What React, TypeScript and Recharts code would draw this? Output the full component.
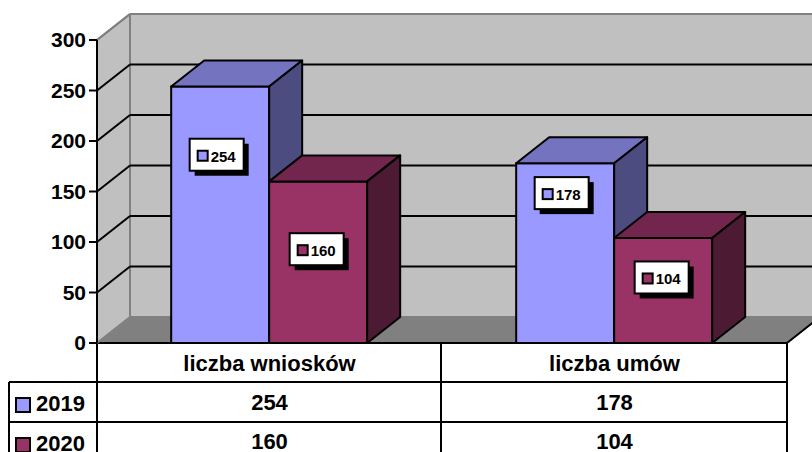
import { Bar, BarChart, CartesianGrid, LabelList, XAxis, YAxis } from "recharts";

const CATEGORIES = ["liczba wniosków", "liczba umów"];
const SERIES_NAMES = ["2019", "2020"];
const VALUES_2019 = [254, 178];
const VALUES_2020 = [160, 104];
const Y_TICKS = [0, 50, 100, 150, 200, 250, 300];

const data = CATEGORIES.map((name, i) => ({
  name,
  y2019: VALUES_2019[i],
  y2020: VALUES_2020[i],
}));

// layout of the fake 3D box (Excel style)
const W = 812;
const H = 452;
const PLOT = { left: 97, right: 787, top: 40, bottom: 343 };
const DX = 33;
const DY = -26;
const ROW1 = 382;
const ROW2 = 422;
const MID_COL = 441;
const FONT = '"Liberation Sans", Arial, sans-serif';

type Shade = { front: string; top: string; side: string };
const COLORS: Record<string, Shade> = {
  y2019: { front: "#9999ff", top: "#7373bf", side: "#4c4c80" },
  y2020: { front: "#993366", top: "#73264d", side: "#4d1a33" },
};
const SERIES_KEYS = ["y2019", "y2020"];

function box3d(c: Shade) {
  return (props: any) => {
    const { x, y, width: w, height: h } = props;
    if (!h) return <g />;
    return (
      <g stroke="#000" strokeWidth={2} strokeLinejoin="round">
        <rect x={x} y={y} width={w} height={h} fill={c.front} />
        <polygon
          points={`${x},${y} ${x + DX},${y + DY} ${x + w + DX},${y + DY} ${x + w},${y}`}
          fill={c.top}
        />
        <polygon
          points={`${x + w},${y} ${x + w + DX},${y + DY} ${x + w + DX},${y + h + DY} ${x + w},${y + h}`}
          fill={c.side}
        />
      </g>
    );
  };
}

// white boxed value label with legend key and drop shadow
function valueLabel(c: Shade, shiftX: number, shiftY: number) {
  return (props: any) => {
    const vb = props.viewBox ?? props;
    const { x, y, width, height } = vb;
    const cx = x + width / 2 + shiftX;
    const cy = y + height / 2 + shiftY;
    const bw = 54;
    const bh = 32;
    const bx = cx - bw / 2;
    const by = cy - bh / 2;
    return (
      <g>
        <rect x={bx + 5} y={by + 5} width={bw} height={bh} fill="#000" />
        <rect x={bx} y={by} width={bw} height={bh} fill="#fff" stroke="#000" strokeWidth={2} />
        <rect x={bx + 8} y={cy - 4} width={10} height={10} fill={c.front} stroke="#000" strokeWidth={2} />
        <text
          x={bx + 21}
          y={cy + 7}
          fontSize={15}
          fontWeight="bold"
          fontFamily={FONT}
          fill="#000"
        >
          {props.value}
        </text>
      </g>
    );
  };
}

function WallLine(props: any) {
  const { x1, y1, x2 } = props;
  const edge = Math.abs(y1 - PLOT.top) < 1 || Math.abs(y1 - PLOT.bottom) < 1;
  const stroke = edge ? "#808080" : "#000";
  return (
    <g>
      <line x1={x1 + DX} y1={y1 + DY} x2={x2 + DX} y2={y1 + DY} stroke={stroke} strokeWidth={2} />
      <line x1={x1} y1={y1} x2={x1 + DX} y2={y1 + DY} stroke={stroke} strokeWidth={2} />
    </g>
  );
}

function TableTick(props: any) {
  const { x, payload } = props;
  const i = CATEGORIES.indexOf(payload.value);
  return (
    <g fontFamily={FONT} fontWeight="bold" fontSize={22} fill="#000">
      <text x={x} y={371} textAnchor="middle">{payload.value}</text>
      <text x={x} y={410} textAnchor="middle">{VALUES_2019[i]}</text>
      <text x={x} y={449} textAnchor="middle">{VALUES_2020[i]}</text>
    </g>
  );
}

function Backdrop() {
  const { left, right, top, bottom } = PLOT;
  return (
    <svg width={W} height={H} style={{ position: "absolute", left: 0, top: 0 }}>
      {/* back wall */}
      <rect x={left + DX} y={top + DY} width={W} height={bottom - top} fill="#c0c0c0" />
      {/* side wall */}
      <polygon
        points={`${left},${top} ${left + DX},${top + DY} ${left + DX},${bottom + DY} ${left},${bottom}`}
        fill="#c0c0c0"
      />
      <line x1={left + DX} y1={top + DY} x2={left + DX} y2={bottom + DY} stroke="#808080" strokeWidth={2} />
      <line x1={left + DX} y1={top + DY} x2={W} y2={top + DY} stroke="#808080" strokeWidth={2} />
      <line x1={left} y1={top} x2={left + DX} y2={top + DY} stroke="#808080" strokeWidth={2} />
      {/* floor */}
      <polygon
        points={`${left},${bottom} ${left + DX},${bottom + DY} ${right + DX},${bottom + DY} ${right},${bottom}`}
        fill="#808080"
      />
      <line x1={left + DX} y1={bottom + DY} x2={right + DX} y2={bottom + DY} stroke="#9a9a9a" strokeWidth={2} />
      <line x1={left} y1={bottom} x2={left + DX} y2={bottom + DY} stroke="#a8a8a8" strokeWidth={1.5} />
      <line x1={right} y1={bottom} x2={right + DX} y2={bottom + DY} stroke="#000" strokeWidth={2} />

      {/* data table */}
      <g stroke="#000" strokeWidth={2}>
        <line x1={left} y1={bottom} x2={right} y2={bottom} />
        <line x1={left} y1={bottom} x2={left} y2={H} />
        <line x1={MID_COL} y1={bottom} x2={MID_COL} y2={H} />
        <line x1={right} y1={bottom} x2={right} y2={H} />
        <line x1={9} y1={ROW1} x2={right} y2={ROW1} />
        <line x1={9} y1={ROW2} x2={right} y2={ROW2} />
        <line x1={9} y1={ROW1} x2={9} y2={H} />
      </g>
      {SERIES_NAMES.map((s, i) => {
        const rowTop = i === 0 ? ROW1 : ROW2;
        return (
          <g key={s}>
            <rect
              x={16}
              y={rowTop + 16}
              width={14}
              height={14}
              fill={COLORS[SERIES_KEYS[i]].front}
              stroke="#000"
              strokeWidth={2}
            />
            <text x={36} y={rowTop + 29} fontFamily={FONT} fontWeight="bold" fontSize={22} fill="#000">
              {s}
            </text>
          </g>
        );
      })}
    </svg>
  );
}

export default function App() {
  return (
    <div style={{ position: "absolute", left: 0, top: 0, width: W, height: H, background: "#fff" }}>
      <Backdrop />
      <div style={{ position: "absolute", left: 0, top: 0 }}>
        <BarChart
          width={W}
          height={H}
          data={data}
          margin={{ top: PLOT.top, right: W - PLOT.right, left: 0, bottom: 0 }}
          barCategoryGap="21.5%"
          barGap={0}
        >
          <CartesianGrid vertical={false} horizontal={(p: any) => <WallLine {...p} />} />
          <XAxis
            dataKey="name"
            height={H - PLOT.bottom}
            axisLine={false}
            tickLine={false}
            interval={0}
            tick={(p: any) => <TableTick {...p} />}
          />
          <YAxis
            domain={[0, 300]}
            ticks={Y_TICKS}
            interval={0}
            width={PLOT.left}
            axisLine={{ stroke: "#000", strokeWidth: 2 }}
            tickLine={{ stroke: "#000", strokeWidth: 2 }}
            tickSize={8}
            tickMargin={3}
            tick={{ fill: "#000", fontSize: 21, fontWeight: "bold", fontFamily: FONT }}
          />
          <Bar dataKey="y2019" shape={box3d(COLORS.y2019)} isAnimationActive={false}>
            <LabelList dataKey="y2019" content={valueLabel(COLORS.y2019, -3.5, -60)} />
          </Bar>
          <Bar dataKey="y2020" shape={box3d(COLORS.y2020)} isAnimationActive={false}>
            <LabelList dataKey="y2020" content={valueLabel(COLORS.y2020, -1.5, -13)} />
          </Bar>
        </BarChart>
      </div>
    </div>
  );
}
